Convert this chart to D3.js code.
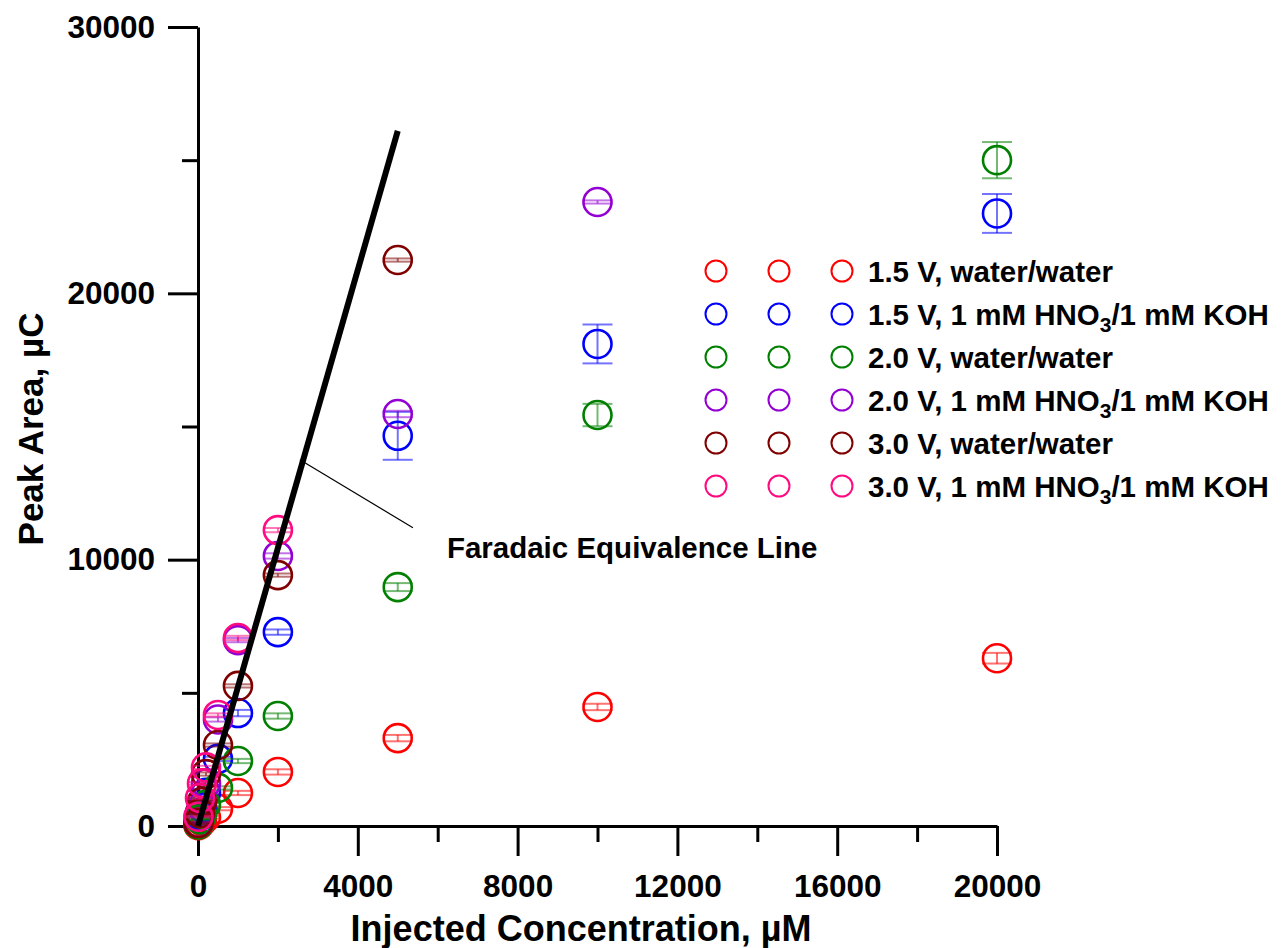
<!DOCTYPE html>
<html>
<head>
<meta charset="utf-8">
<script src="https://cdn.jsdelivr.net/npm/d3@7"></script>
<style>
  html, body { margin: 0; padding: 0; background: #fff; }
  svg { display: block; font-family: "Liberation Sans", Arial, sans-serif; font-weight: bold; }
</style>
</head>
<body>
<svg id="chart" width="1281" height="948"></svg>
<script>
// Injected concentrations (µM)
const conc = [10, 50, 100, 200, 500, 1000, 2000, 5000, 10000, 20000];

// Peak areas (µC) and their error half-widths for each run condition
const red15Water   = [30, 100, 180, 330, 650, 1240, 2030, 3300, 4470, 6300];
const red15WaterE  = [20, 30, 40, 50, 60, 80, 100, 120, 120, 200];
const blue15Acid   = [90, 380, 700, 1250, 2520, 4240, 7280, 14650, 18100, 23000];
const blue15AcidE  = [30, 40, 50, 60, 80, 120, 100, 900, 730, 730];
const green20Water = [60, 250, 450, 800, 1430, 2440, 4130, 8970, 15430, 25000];
const green20WaterE= [20, 30, 40, 50, 60, 80, 100, 150, 420, 680];
const purp20Acid   = [120, 500, 900, 1600, 4000, 6980, 10140, 15470, 23430];
const purp20AcidE  = [30, 40, 50, 60, 80, 80, 100, 120, 60];
const dred30Water  = [110, 480, 900, 1950, 3040, 5260, 9420, 21250];
const dred30WaterE = [30, 40, 50, 60, 60, 60, 60, 60];
const pink30Acid   = [350, 1050, 1600, 2200, 4170, 7060, 11110];
const pink30AcidE  = [30, 40, 50, 60, 60, 80, 80];

const seriesNames = [
  ["1.5 V, water/water"],
  ["1.5 V, 1 mM HNO", "3", "/1 mM KOH"],
  ["2.0 V, water/water"],
  ["2.0 V, 1 mM HNO", "3", "/1 mM KOH"],
  ["3.0 V, water/water"],
  ["3.0 V, 1 mM HNO", "3", "/1 mM KOH"]
];
const seriesColors = ["#ff0000", "#0000ff", "#008000", "#9400d3", "#800000", "#ff0a80"];
const seriesValues = [red15Water, blue15Acid, green20Water, purp20Acid, dred30Water, pink30Acid];
const seriesErrors = [red15WaterE, blue15AcidE, green20WaterE, purp20AcidE, dred30WaterE, pink30AcidE];

// Faradaic equivalence line end points
const faradaicX = [0, 5000];
const faradaicY = [0, 26100];

// Axis ticks
const xTicks = d3.range(0, 20001, 2000);
const yTicks = d3.range(0, 30001, 5000);

const svg = d3.select("#chart");
const x = d3.scaleLinear().domain([0, 20000]).range([198, 997]);
const y = d3.scaleLinear().domain([0, 30000]).range([826, 27]);

// Axes
const xAxis = d3.axisBottom(x)
  .tickValues(xTicks)
  .tickSize(30)
  .tickSizeOuter(0)
  .tickPadding(19)
  .tickFormat(d => d % 4000 === 0 ? d : "");
const gx = svg.append("g").attr("transform", `translate(0,${y(0)})`).call(xAxis);
gx.selectAll(".tick line").attr("y2", d => d % 4000 === 0 ? 30 : 16);

const yAxis = d3.axisLeft(y)
  .tickValues(yTicks)
  .tickSize(30)
  .tickSizeOuter(0)
  .tickPadding(13)
  .tickFormat(d => d % 10000 === 0 ? d : "");
const gy = svg.append("g").attr("transform", `translate(${x(0)},0)`).call(yAxis);
gy.selectAll(".tick line").attr("x2", d => d % 10000 === 0 ? -30 : -16);

[gx, gy].forEach(g => {
  g.select(".domain").attr("stroke", "#000").attr("stroke-width", 3);
  g.selectAll(".tick line").attr("stroke", "#000").attr("stroke-width", 3);
  g.selectAll(".tick text")
    .attr("fill", "#000")
    .style("font-size", "31.5px")
    .style("font-weight", "bold")
    .style("font-family", '"Liberation Sans", Arial, sans-serif');
});
gx.selectAll(".tick text").attr("dy", "0.71em");

// Axis titles
svg.append("text")
  .attr("x", 581).attr("y", 941)
  .attr("text-anchor", "middle")
  .style("font-size", "36px")
  .text("Injected Concentration, µM");
svg.append("text")
  .attr("transform", "translate(43,429) rotate(-90)")
  .attr("text-anchor", "middle")
  .style("font-size", "35px")
  .text("Peak Area, µC");

// Data points with error bars
const plot = svg.append("g");
seriesValues.forEach((vals, si) => {
  const col = seriesColors[si];
  const errs = seriesErrors[si];
  const g = plot.append("g");
  vals.forEach((v, i) => {
    const cx = x(conc[i]);
    const e = errs[i];
    const eb = g.append("g").attr("stroke", col).attr("stroke-opacity", 0.55).attr("stroke-width", 2);
    eb.append("line").attr("x1", cx).attr("x2", cx).attr("y1", y(v - e)).attr("y2", y(v + e));
    eb.append("line").attr("x1", cx - 15).attr("x2", cx + 15).attr("y1", y(v + e)).attr("y2", y(v + e));
    eb.append("line").attr("x1", cx - 15).attr("x2", cx + 15).attr("y1", y(v - e)).attr("y2", y(v - e));
    g.append("circle")
      .attr("cx", cx).attr("cy", y(v)).attr("r", 14)
      .attr("fill", "none").attr("stroke", col).attr("stroke-width", 2.6);
  });
});

// Faradaic equivalence line
svg.append("line")
  .attr("x1", x(faradaicX[0])).attr("y1", y(faradaicY[0]))
  .attr("x2", x(faradaicX[1])).attr("y2", y(faradaicY[1]))
  .attr("stroke", "#000").attr("stroke-width", 6);

// Leader line and label
svg.append("line")
  .attr("x1", x(2550)).attr("y1", y(13750))
  .attr("x2", x(5380)).attr("y2", y(11200))
  .attr("stroke", "#000").attr("stroke-width", 1.2);
svg.append("text")
  .attr("x", x(6230)).attr("y", y(10050))
  .style("font-size", "29.5px")
  .text("Faradaic Equivalence Line");

// Legend
const legendRowY = [271, 314, 357, 400, 443, 486];
const legendSymX = [716, 779, 842];
const legend = svg.append("g");
seriesNames.forEach((parts, i) => {
  const ly = legendRowY[i];
  legendSymX.forEach(lx => {
    legend.append("circle")
      .attr("cx", lx).attr("cy", ly).attr("r", 10.5)
      .attr("fill", "none").attr("stroke", seriesColors[i]).attr("stroke-width", 2);
  });
  const t = legend.append("text").attr("x", 868).attr("y", ly + 10.5).style("font-size", "29.5px");
  t.append("tspan").text(parts[0]);
  if (parts.length > 1) {
    t.append("tspan").attr("dy", 7).style("font-size", "21px").text(parts[1]);
    t.append("tspan").attr("dy", -7).text(parts[2]);
  }
});
</script>
</body>
</html>
